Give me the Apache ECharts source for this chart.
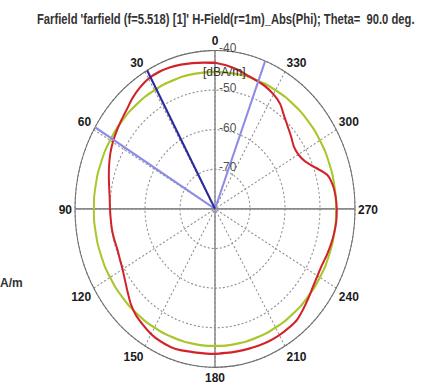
<!DOCTYPE html>
<html>
<head>
<meta charset="utf-8">
<script src="https://cdn.jsdelivr.net/npm/echarts@6/dist/echarts.min.js"></script>
<style>
html,body{margin:0;padding:0;background:#fff;overflow:hidden;width:421px;height:387px;}
#c{width:421px;height:342px;transform:scaleY(1.1316);transform-origin:0 0;}
</style>
</head>
<body>
<div id="c"></div>
<script>
// ---- data ----
var titleText = "Farfield 'farfield (f=5.518) [1]' H-Field(r=1m)_Abs(Phi); Theta=  90.0 deg.";
var unitText = "[dBA/m]";
var legendFragment = "A/m";
var angleTicks = [0, 30, 60, 90, 120, 150, 180, 210, 240, 270, 300, 330];
var radiusTicks = [-80, -70, -60, -50, -40];

var redAngles = [0,5,10,15,20,25,30,35,40,45,50,55,60,65,70,75,80,85,90,95,100,105,110,115,120,125,130,135,140,145,150,155,160,165,170,175,180,185,190,195,200,205,210,215,220,225,230,235,240,245,250,255,260,265,270,275,280,285,290,295,300,305,310,315,320,325,330,335,340,345,350,355,360];
var redValues = [-43.1,-42.9,-42.6,-42.3,-42.0,-41.9,-42.0,-42.6,-43.4,-44.4,-45.1,-45.7,-46.3,-47.0,-47.8,-48.6,-49.3,-49.8,-50.0,-50.1,-50.1,-50.2,-50.3,-50.0,-49.5,-48.6,-47.4,-46.0,-44.9,-44.2,-43.5,-43.1,-42.9,-43.0,-43.3,-43.4,-43.4,-43.5,-43.5,-43.4,-43.3,-43.2,-43.2,-43.3,-43.5,-44.3,-45.1,-45.8,-46.2,-46.3,-46.0,-45.7,-45.4,-45.2,-45.2,-45.4,-45.8,-46.8,-49.5,-51.6,-52.5,-52.5,-51.6,-50.6,-49.3,-47.6,-46.6,-45.9,-45.5,-45.0,-44.2,-43.6,-43.1];

var greenAngles = [0,10,20,30,40,50,60,70,80,90,100,110,120,130,140,150,160,170,180,190,200,210,220,230,240,250,260,270,280,290,300,310,320,330,340,350,360];
var greenValues = [-45.4,-45.4,-45.4,-45.4,-45.4,-45.4,-45.4,-45.4,-45.4,-45.4,-45.4,-45.4,-45.4,-45.4,-45.4,-45.4,-45.4,-45.4,-45.4,-45.4,-45.4,-45.4,-45.4,-45.4,-45.4,-45.4,-45.4,-45.4,-45.4,-45.4,-45.4,-45.4,-45.4,-45.4,-45.4,-45.4,-45.4];

var mainLobeAngle = 29;
var beamEdgeAngles = [59, 339];
var crossAngles = [[0, 180], [90, 270]];

// ---- chart ----
var rMin = radiusTicks[0], rMax = radiusTicks[radiusTicks.length - 1];
function zip(rs, as) { return rs.map(function (r, i) { return [r, as[i]]; }); }
function spoke(a) { return [[rMin, a], [rMax, a]]; }

var titleFont = 'bold 13.5px "Liberation Sans"';
var mctx = document.createElement('canvas').getContext('2d');
mctx.font = titleFont;
var titleScaleX = 378 / mctx.measureText(titleText).width;

var series = [];
crossAngles.forEach(function (p) {
  series.push({
    type: 'line', coordinateSystem: 'polar', silent: true, symbol: 'none',
    lineStyle: { color: '#8a8a8a', width: 1.5 },
    data: [[rMax, p[0]], [rMin, p[0]], [rMax, p[1]]], z: 2
  });
});
series.push({
  type: 'line', coordinateSystem: 'polar', silent: true, symbol: 'none', smooth: true,
  lineStyle: { color: '#a9c62a', width: 2 },
  data: zip(greenValues, greenAngles), z: 3
});
series.push({
  type: 'line', coordinateSystem: 'polar', silent: true, symbol: 'none', smooth: 0.3,
  lineStyle: { color: '#d2232a', width: 2 },
  data: zip(redValues, redAngles), z: 4
});
beamEdgeAngles.forEach(function (a) {
  series.push({
    type: 'line', coordinateSystem: 'polar', silent: true, symbol: 'none',
    lineStyle: { color: '#8c8ce6', width: 2 },
    data: spoke(a), z: 5
  });
});
series.push({
  type: 'line', coordinateSystem: 'polar', silent: true, symbol: 'none',
  lineStyle: { color: '#2a2a9c', width: 2 },
  data: spoke(mainLobeAngle), z: 6
});
// radius tick labels, right of the vertical axis
series.push({
  type: 'scatter', coordinateSystem: 'polar', silent: true, symbolSize: 0,
  data: radiusTicks.slice(1).map(function (v) { return [v, 0]; }),
  label: {
    show: true, position: 'right', distance: 4, offset: [0, -2.5], color: '#222', fontSize: 12,
    fontFamily: 'Liberation Sans, Arial',
    formatter: function (p) { return String(p.value[0]); }
  }, z: 7
});

var chart = echarts.init(document.getElementById('c'), null, { renderer: 'svg' });
chart.setOption({
  animation: false,
  backgroundColor: '#fff',
  polar: { center: [215, 184.6], radius: 140 },
  angleAxis: {
    type: 'value', min: 0, max: 360, interval: 30, startAngle: 90, clockwise: false,
    axisLine: { lineStyle: { color: '#6e6e6e', width: 1 } },
    axisTick: { show: false },
    axisLabel: {
      margin: 3, color: '#1a1a1a', fontSize: 12, fontWeight: 'bold', fontFamily: 'Liberation Sans, Arial',
      formatter: function (v) { return angleTicks.indexOf(v) >= 0 ? String(v) : ''; }
    },
    splitLine: { show: true, lineStyle: { color: '#8f8f8f', type: [2, 2], width: 1 } }
  },
  radiusAxis: {
    type: 'value', min: rMin, max: rMax, interval: 10,
    axisLine: { show: false },
    axisTick: { show: false },
    axisLabel: { show: false },
    splitLine: { show: true, lineStyle: { color: '#8f8f8f', type: [2, 2], width: 1 } }
  },
  graphic: [
    { type: 'text', x: 37, y: 9.5, scaleX: titleScaleX, scaleY: 1,
      style: { text: titleText, font: titleFont, fill: '#333', textVerticalAlign: 'top' }, z: 10 },
    { type: 'text', left: 203, top: 56.5, style: { text: unitText, fontSize: 12, fontFamily: 'Liberation Sans, Arial', fill: '#333' }, z: 10 },
    { type: 'text', left: 0, top: 243, style: { text: legendFragment, fontSize: 12, fontFamily: 'Liberation Sans, Arial', fontWeight: 'bold', fill: '#333' } }
  ],
  series: series
});
</script>
</body>
</html>
